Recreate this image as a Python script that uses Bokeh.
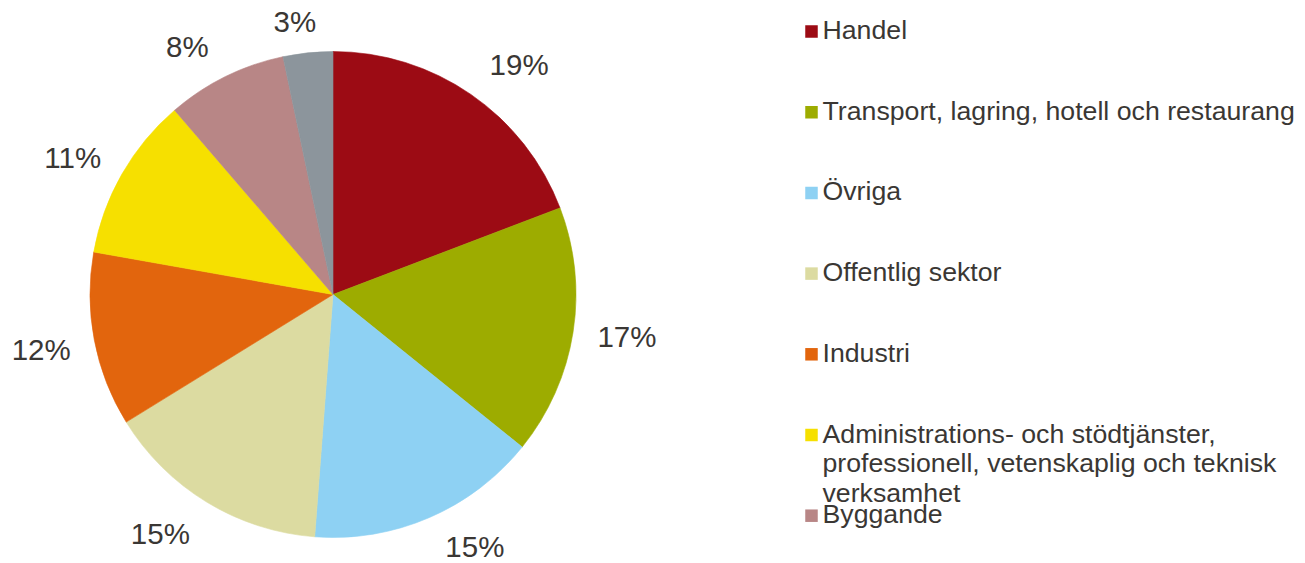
import numpy as np
from bokeh.plotting import figure
from bokeh.models import Range1d, ColumnDataSource
from bokeh.embed import file_html
from bokeh.resources import INLINE
from bokeh.core.properties import value

# ---------------- data ----------------
categories = [
    "Handel",
    "Transport, lagring, hotell och restaurang",
    "Övriga",
    "Offentlig sektor",
    "Industri",
    "Administrations- och stödtjänster,\nprofessionell, vetenskaplig och teknisk\nverksamhet",
    "Byggande",
    "Jordbruk, skogsbruk och fiske",
]
shares = [19.2, 16.6, 15.4, 15.0, 11.6, 10.9, 8.0, 3.3]
colors = ["#9C0B14", "#9DAC00", "#8ED1F3", "#DCDBA1",
          "#E2650D", "#F6E000", "#B88686", "#8C959C"]
legend_count = 7  # the legend box only fits the first seven entries

# ------------- layout / style -------------
W, H = 1305, 563
FONT = value("Liberation Sans")
TXT = "#3A3734"

def yd(pic_y):
    return H - pic_y

cx, cy, R = 332.5, yd(294), 243
label_r = [296, 297, 289, 295, 297, 294, 288, 276]
label_nudge_deg = [4.4, -0.8, -6.0, 4.5, 0.1, -2.0, -4.1, -2.0]

p = figure(width=W, height=H, output_backend="svg", toolbar_location=None,
           x_range=Range1d(0, W), y_range=Range1d(0, H),
           min_border=0, outline_line_color=None)
p.axis.visible = False
p.grid.visible = False
p.background_fill_color = "white"
p.border_fill_color = "white"

frac = np.array(shares) / np.sum(shares)
cum_end = np.cumsum(frac)
cum_start = cum_end - frac
start = np.pi / 2 - 2 * np.pi * cum_start
end = np.pi / 2 - 2 * np.pi * cum_end

src = ColumnDataSource(dict(start=start, end=end, color=colors))
p.wedge(x=cx, y=cy, radius=R, start_angle="start", end_angle="end",
        direction="clock", fill_color="color", line_color="color",
        line_width=0.6, source=src)

# percentage labels
mid_deg = 360 * (cum_start + frac / 2) + np.array(label_nudge_deg)
th = np.radians(mid_deg)
lx = cx + np.array(label_r) * np.sin(th)
ly = cy + np.array(label_r) * np.cos(th)
labels = [f"{int(round(s))}%" for s in shares]
p.text(x=lx, y=ly, text=labels, text_font=FONT, text_font_size="29.5px",
       text_color=TXT, text_align="center", text_baseline="middle")

# legend
sq_x, row0, row_gap, line_h = 811, 31, 80.7, 29.5
for i in range(legend_count):
    yc = row0 + i * row_gap
    p.rect(x=sq_x, y=yd(yc), width=12.5, height=12.5, width_units="screen",
           height_units="screen", fill_color=colors[i], line_color=None)
    for k, line in enumerate(categories[i].split("\n")):
        p.text(x=[822], y=[yd(yc - 1.5 + k * line_h)], text=[line], text_font=FONT,
               text_font_size="26.7px", text_color=TXT, text_align="left",
               text_baseline="middle")

open("out.html", "w").write(file_html(p, INLINE))
